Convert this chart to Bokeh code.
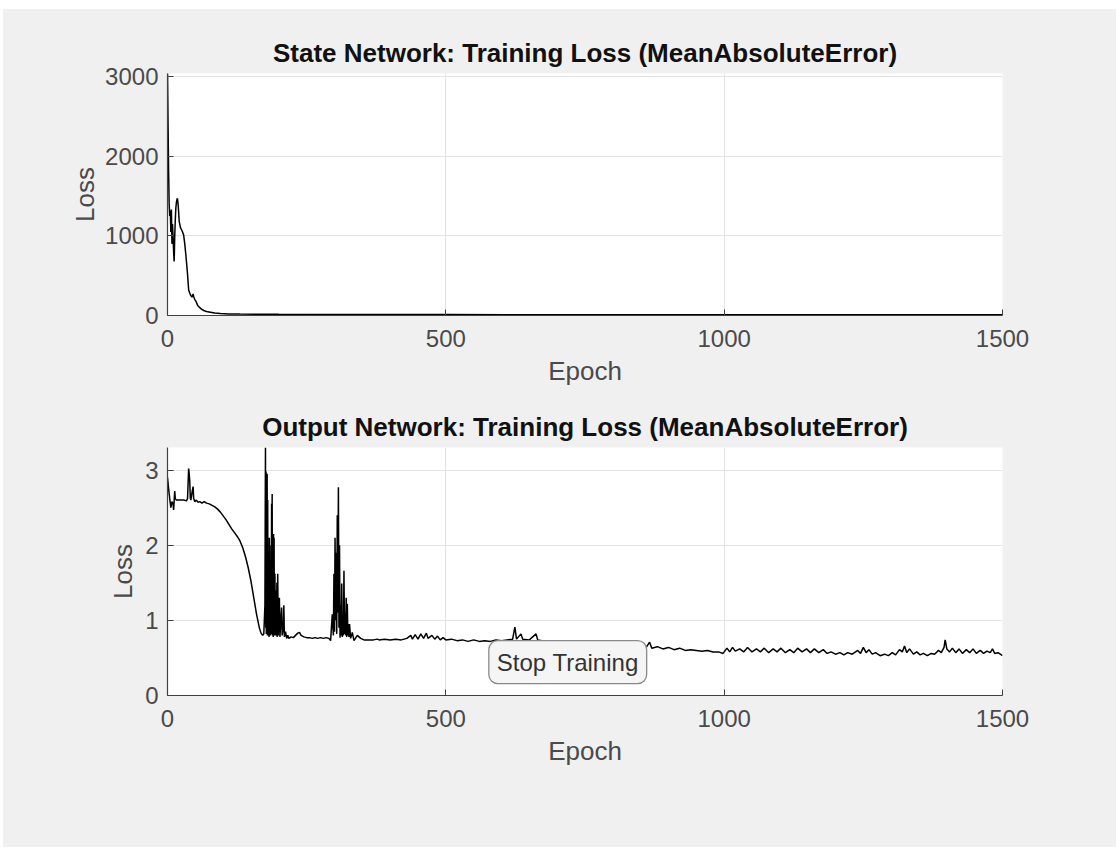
from bokeh.plotting import figure
from bokeh.layouts import column
from bokeh.models import Range1d, FixedTicker, Label
from bokeh.embed import file_html
from bokeh.resources import INLINE

# ---- data ----
state_epochs = [0, 1, 2, 3, 4, 5, 6, 7, 8, 9, 10, 11, 12, 13, 14, 15, 16, 17, 18, 19, 20, 21, 22, 23,
                25, 27, 29, 31, 33, 35, 36, 37, 38, 39, 40, 42, 44, 46, 47, 49, 51, 54, 57, 61, 65,
                70, 77, 85, 95, 110, 130, 160, 200, 250, 300, 400, 500, 700, 1000, 1250, 1500]
state_loss = [3040, 2400, 1800, 1400, 1250, 1320, 1050, 1330, 900, 1150, 990, 800, 680, 1000, 1200,
              1350, 1420, 1460, 1470, 1400, 1300, 1180, 1150, 1110, 1080, 1050, 1010, 900, 760, 600,
              520, 420, 320, 300, 280, 250, 230, 270, 240, 200, 180, 130, 105, 80, 63, 50, 42, 32,
              25, 20, 18, 16, 15, 14, 13, 12, 11, 10, 9, 8, 8]

# output network loss, as (epoch, loss) pairs, in segments
output_warmup = [(0, 2.90), (2, 2.75), (4, 2.62), (6, 2.50), (8, 2.58), (10, 2.55), (11, 2.47),
                 (12, 2.60), (13, 2.72), (14, 2.62), (16, 2.60), (20, 2.60), (25, 2.60), (30, 2.60),
                 (34, 2.59), (36, 2.62), (38, 3.02), (39, 2.95), (40, 2.85), (41, 2.62), (42, 2.60),
                 (44, 2.70), (46, 2.78), (47, 2.62), (49, 2.58), (52, 2.60), (55, 2.57), (58, 2.58),
                 (62, 2.56), (66, 2.58), (70, 2.56), (75, 2.55), (80, 2.53), (85, 2.51), (90, 2.48),
                 (95, 2.44), (100, 2.39), (105, 2.34), (110, 2.28), (115, 2.22), (120, 2.17),
                 (125, 2.12), (130, 2.06), (135, 1.97), (140, 1.85), (145, 1.70), (150, 1.52),
                 (155, 1.30), (160, 1.08), (165, 0.90), (168, 0.83), (171, 0.80), (173, 0.82)]
output_spikes1 = [(175, 1.20), (176, 3.30), (176.5, 0.90), (177, 2.98), (177.5, 0.82), (178, 2.20),
                  (178.5, 0.85), (179, 2.95), (179.5, 0.80), (180, 2.60), (180.5, 0.85), (181, 1.90),
                  (181.5, 0.80), (182, 1.40), (182.5, 0.78), (183, 2.10), (183.5, 0.80), (184, 1.60),
                  (185, 0.80), (186, 2.00), (186.5, 0.82), (187, 2.55), (187.5, 0.85), (188, 2.68),
                  (188.5, 0.80), (189, 1.70), (190, 0.78), (190.5, 2.15), (191, 0.80), (191.5, 2.10),
                  (192, 0.85), (193, 1.62), (193.5, 0.80), (194, 1.40), (195, 0.90), (196, 0.80),
                  (196.5, 1.50), (197, 0.78), (198, 1.62), (199, 0.80), (200, 1.10), (201, 1.30),
                  (202, 0.78), (204, 1.05), (205, 1.17), (206, 0.80), (208, 0.90), (209, 1.20),
                  (210, 0.78), (212, 0.85)]
output_plateau = [(214, 0.76), (216, 0.80), (218, 0.76), (222, 0.78), (226, 0.77), (230, 0.80),
                  (234, 0.83), (237, 0.84), (240, 0.80), (245, 0.78), (250, 0.77), (255, 0.77),
                  (260, 0.76), (265, 0.77), (270, 0.76), (275, 0.77), (280, 0.76), (285, 0.77),
                  (290, 0.76), (293, 0.73)]
output_spikes2 = [(296, 1.08), (298, 0.80), (299, 1.62), (300, 0.85), (301, 2.10), (302, 1.00),
                  (303, 1.90), (304, 0.82), (305, 2.40), (306, 1.10), (307, 2.77), (308, 0.90),
                  (309, 2.00), (310, 0.77), (311, 1.20), (312, 0.80), (313, 1.49), (314, 0.78),
                  (315, 1.00), (316, 0.80), (317, 1.66), (318, 0.82), (319, 1.10), (320, 0.80),
                  (321, 1.30), (322, 0.78), (323, 1.22), (324, 0.80), (325, 0.95), (326, 0.78),
                  (327, 0.95)]
output_tail = [(329, 0.76), (332, 0.84), (335, 0.73), (341, 0.80), (347, 0.76), (353, 0.74),
               (360, 0.74), (370, 0.74), (377, 0.75), (380, 0.74), (390, 0.75), (400, 0.74),
               (410, 0.75), (420, 0.74), (430, 0.76), (437, 0.80), (440, 0.75), (445, 0.81),
               (450, 0.75), (455, 0.82), (460, 0.76), (465, 0.83), (468, 0.76), (475, 0.80),
               (480, 0.75), (485, 0.79), (490, 0.74), (495, 0.77), (500, 0.74), (510, 0.75),
               (520, 0.73), (530, 0.74), (540, 0.72), (550, 0.74), (560, 0.72), (570, 0.73),
               (580, 0.72), (590, 0.74), (600, 0.73), (610, 0.74), (620, 0.75), (624, 0.91),
               (627, 0.75), (635, 0.82), (638, 0.75), (650, 0.74), (662, 0.82), (665, 0.74),
               (680, 0.72), (700, 0.71), (720, 0.70), (740, 0.70), (760, 0.69), (780, 0.68),
               (800, 0.67), (820, 0.66), (840, 0.65), (860, 0.64), (866, 0.71), (870, 0.63),
               (880, 0.65), (890, 0.62), (900, 0.64), (910, 0.61), (920, 0.63), (930, 0.60),
               (940, 0.61), (950, 0.60), (960, 0.59), (970, 0.60), (980, 0.58), (990, 0.58),
               (998, 0.56), (1005, 0.63), (1010, 0.58), (1015, 0.64), (1020, 0.59), (1028, 0.62),
               (1035, 0.58), (1042, 0.64), (1050, 0.58), (1058, 0.62), (1065, 0.58), (1072, 0.63),
               (1080, 0.57), (1088, 0.62), (1095, 0.58), (1102, 0.63), (1110, 0.57), (1118, 0.61),
               (1125, 0.57), (1132, 0.63), (1140, 0.58), (1148, 0.62), (1155, 0.57), (1162, 0.62),
               (1170, 0.57), (1178, 0.61), (1185, 0.56), (1192, 0.58), (1200, 0.55), (1208, 0.57),
               (1215, 0.54), (1222, 0.57), (1230, 0.55), (1240, 0.60), (1245, 0.56), (1250, 0.64),
               (1255, 0.57), (1260, 0.61), (1266, 0.55), (1272, 0.57), (1280, 0.53), (1288, 0.55),
               (1295, 0.53), (1302, 0.57), (1308, 0.54), (1315, 0.61), (1320, 0.58), (1324, 0.66),
               (1328, 0.57), (1333, 0.62), (1340, 0.55), (1346, 0.58), (1352, 0.54), (1358, 0.56),
               (1365, 0.53), (1372, 0.56), (1378, 0.55), (1385, 0.60), (1390, 0.57), (1395, 0.64),
               (1397, 0.74), (1400, 0.62), (1405, 0.58), (1410, 0.63), (1416, 0.57), (1422, 0.62),
               (1428, 0.56), (1435, 0.61), (1441, 0.57), (1447, 0.62), (1453, 0.56), (1460, 0.60),
               (1466, 0.56), (1472, 0.59), (1478, 0.57), (1482, 0.62), (1486, 0.56), (1492, 0.57),
               (1500, 0.53)]

x_ticks = [0, 500, 1000, 1500]
state_ticks = [0, 1000, 2000, 3000]
output_ticks = [0, 1, 2, 3]

output_all = output_warmup + output_spikes1 + output_plateau + output_spikes2 + output_tail
output_epochs = [e for e, _ in output_all]
output_loss = [v for _, v in output_all]

BG = "#f0f0f0"
AX = "#404040"
FONT = "Liberation Sans"


def make_fig(title, height, top, bottom, ymax, yticks, xs, ys, ylab_standoff):
    p = figure(width=1113, height=height, output_backend="svg", toolbar_location=None,
               x_range=Range1d(0, 1500), y_range=Range1d(0, ymax),
               min_border_left=164, min_border_right=114,
               min_border_top=top, min_border_bottom=bottom)
    p.background_fill_color = "white"
    p.border_fill_color = BG
    p.outline_line_color = None
    p.title.text = title
    p.title.align = "center"
    p.title.text_font = FONT
    p.title.text_font_size = "26px"
    p.title.text_font_style = "bold"
    p.title.text_color = "#111111"
    p.title.standoff = 11
    p.line(xs, ys, line_color="black", line_width=1.5)
    p.xaxis.ticker = FixedTicker(ticks=x_ticks)
    p.yaxis.ticker = FixedTicker(ticks=yticks)
    p.xaxis.axis_label = "Epoch"
    p.yaxis.axis_label = "Loss"
    for ax in (p.xaxis, p.yaxis):
        ax.axis_line_color = AX
        ax.axis_line_width = 1.2
        ax.major_tick_line_color = AX
        ax.major_tick_in = 6
        ax.major_tick_out = 0
        ax.minor_tick_line_color = None
        ax.major_label_text_font = FONT
        ax.major_label_text_font_size = "24px"
        ax.major_label_text_color = "#4a4a4a"
        ax.axis_label_text_font = FONT
        ax.axis_label_text_font_size = "26px"
        ax.axis_label_text_font_style = "normal"
        ax.axis_label_text_color = "#4a4a4a"
    p.xaxis.major_label_standoff = 14
    p.yaxis.major_label_standoff = 9
    p.xaxis.axis_label_standoff = 6
    p.yaxis.axis_label_standoff = ylab_standoff
    p.grid.grid_line_color = "#e3e3e3"
    p.grid.grid_line_width = 1
    return p


p1 = make_fig("State Network: Training Loss (MeanAbsoluteError)", 391, 64, 85, 3040,
              state_ticks, state_epochs, state_loss, 2)
p2 = make_fig("Output Network: Training Loss (MeanAbsoluteError)", 447, 47, 152, 3.3,
              output_ticks, output_epochs, output_loss, 4)

stop = Label(x=719, y=0.445, text="Stop Training", text_align="center", text_baseline="middle",
             text_font=FONT, text_font_size="24px", text_color="#333333",
             background_fill_color="#f5f5f5", border_line_color="#8a8a8a", border_line_width=1.3,
             padding=8, border_radius=9)
p2.add_layout(stop)

layout = column(p1, p2, spacing=0, margin=(9, 0, 0, 3), styles={"background-color": BG})

open("out.html", "w").write(file_html(layout, INLINE))
